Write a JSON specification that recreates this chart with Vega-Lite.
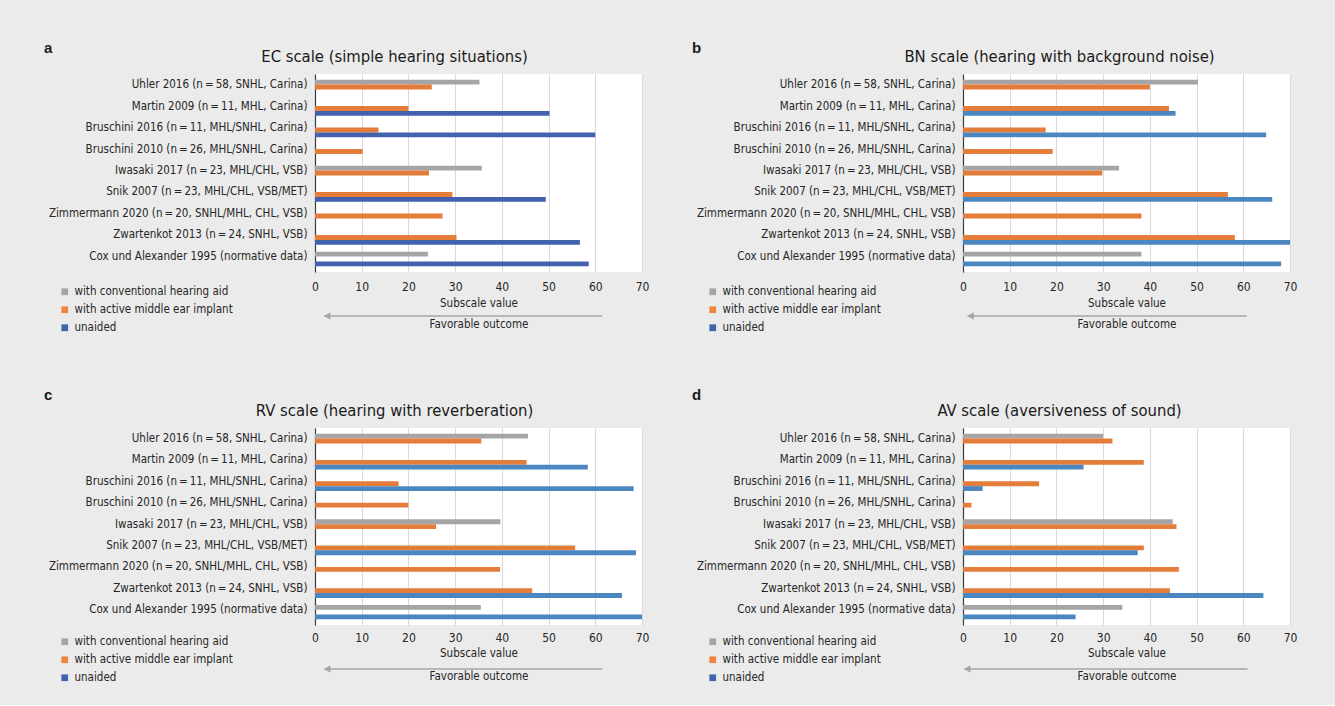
{
 "$schema": "https://vega.github.io/schema/vega-lite/v6.json",
 "background": "#ebebeb",
 "padding": {"left": 44, "top": 40, "right": 45, "bottom": 21},
 "config": {
  "font": "DejaVu Sans Condensed, Liberation Sans Narrow, sans-serif",
  "view": {"stroke": null},
  "axis": {"labelFontSize": 12, "labelColor": "#262626", "labelLimit": 400, "titleFontSize": 11.5, "titleFontWeight": "normal", "titleColor": "#262626", "ticks": false, "tickSize": 0},
  "title": {"fontSize": 16.5, "fontWeight": "normal", "color": "#1a1a1a"},
  "legend": {"orient": "none", "legendX": -256, "legendY": -29, "title": null, "labelFontSize": 11.5, "labelLimit": 400, "labelColor": "#262626", "symbolType": "square", "symbolSize": 45, "symbolOpacity": 1, "symbolStrokeWidth": 0, "rowPadding": 5, "padding": 0, "labelOffset": 4}
 },
 "datasets": {
  "series": [{"g": "with conventional hearing aid"}, {"g": "with active middle ear implant"}, {"g": "unaided"}],
  "arrow": [
   {"p": "a", "x1": 2, "x2": 61.5, "h": 2.6},
   {"p": "b", "x1": 1, "x2": 60.8, "h": 1.6},
   {"p": "c", "x1": 2, "x2": 61.5, "h": 2.6},
   {"p": "d", "x1": 0.3, "x2": 60.9, "h": 0.9}
  ],
  "bars": [
   {"p": "a", "s": "Uhler 2016 (n\u2009=\u200958, SNHL, Carina)", "g": "with conventional hearing aid", "v": 35.2},
   {"p": "a", "s": "Uhler 2016 (n\u2009=\u200958, SNHL, Carina)", "g": "with active middle ear implant", "v": 25},
   {"p": "a", "s": "Martin 2009 (n\u2009=\u200911, MHL, Carina)", "g": "with active middle ear implant", "v": 20},
   {"p": "a", "s": "Martin 2009 (n\u2009=\u200911, MHL, Carina)", "g": "unaided", "v": 50.2},
   {"p": "a", "s": "Bruschini 2016 (n\u2009=\u200911, MHL/SNHL, Carina)", "g": "with active middle ear implant", "v": 13.6},
   {"p": "a", "s": "Bruschini 2016 (n\u2009=\u200911, MHL/SNHL, Carina)", "g": "unaided", "v": 60},
   {"p": "a", "s": "Bruschini 2010 (n\u2009=\u200926, MHL/SNHL, Carina)", "g": "with active middle ear implant", "v": 10.2},
   {"p": "a", "s": "Iwasaki 2017 (n\u2009=\u200923, MHL/CHL, VSB)", "g": "with conventional hearing aid", "v": 35.7},
   {"p": "a", "s": "Iwasaki 2017 (n\u2009=\u200923, MHL/CHL, VSB)", "g": "with active middle ear implant", "v": 24.4},
   {"p": "a", "s": "Snik 2007 (n\u2009=\u200923, MHL/CHL, VSB/MET)", "g": "with active middle ear implant", "v": 29.4},
   {"p": "a", "s": "Snik 2007 (n\u2009=\u200923, MHL/CHL, VSB/MET)", "g": "unaided", "v": 49.4},
   {"p": "a", "s": "Zimmermann 2020 (n\u2009=\u200920, SNHL/MHL, CHL, VSB)", "g": "with active middle ear implant", "v": 27.3},
   {"p": "a", "s": "Zwartenkot 2013 (n\u2009=\u200924, SNHL, VSB)", "g": "with active middle ear implant", "v": 30.3},
   {"p": "a", "s": "Zwartenkot 2013 (n\u2009=\u200924, SNHL, VSB)", "g": "unaided", "v": 56.7},
   {"p": "a", "s": "Cox und Alexander 1995 (normative data)", "g": "with conventional hearing aid", "v": 24.2},
   {"p": "a", "s": "Cox und Alexander 1995 (normative data)", "g": "unaided", "v": 58.6},

   {"p": "b", "s": "Uhler 2016 (n\u2009=\u200958, SNHL, Carina)", "g": "with conventional hearing aid", "v": 50.3},
   {"p": "b", "s": "Uhler 2016 (n\u2009=\u200958, SNHL, Carina)", "g": "with active middle ear implant", "v": 40},
   {"p": "b", "s": "Martin 2009 (n\u2009=\u200911, MHL, Carina)", "g": "with active middle ear implant", "v": 44.1},
   {"p": "b", "s": "Martin 2009 (n\u2009=\u200911, MHL, Carina)", "g": "unaided", "v": 45.5},
   {"p": "b", "s": "Bruschini 2016 (n\u2009=\u200911, MHL/SNHL, Carina)", "g": "with active middle ear implant", "v": 17.7},
   {"p": "b", "s": "Bruschini 2016 (n\u2009=\u200911, MHL/SNHL, Carina)", "g": "unaided", "v": 64.9},
   {"p": "b", "s": "Bruschini 2010 (n\u2009=\u200926, MHL/SNHL, Carina)", "g": "with active middle ear implant", "v": 19.2},
   {"p": "b", "s": "Iwasaki 2017 (n\u2009=\u200923, MHL/CHL, VSB)", "g": "with conventional hearing aid", "v": 33.4},
   {"p": "b", "s": "Iwasaki 2017 (n\u2009=\u200923, MHL/CHL, VSB)", "g": "with active middle ear implant", "v": 29.8},
   {"p": "b", "s": "Snik 2007 (n\u2009=\u200923, MHL/CHL, VSB/MET)", "g": "with active middle ear implant", "v": 56.7},
   {"p": "b", "s": "Snik 2007 (n\u2009=\u200923, MHL/CHL, VSB/MET)", "g": "unaided", "v": 66.2},
   {"p": "b", "s": "Zimmermann 2020 (n\u2009=\u200920, SNHL/MHL, CHL, VSB)", "g": "with active middle ear implant", "v": 38.2},
   {"p": "b", "s": "Zwartenkot 2013 (n\u2009=\u200924, SNHL, VSB)", "g": "with active middle ear implant", "v": 58.2},
   {"p": "b", "s": "Zwartenkot 2013 (n\u2009=\u200924, SNHL, VSB)", "g": "unaided", "v": 70.6},
   {"p": "b", "s": "Cox und Alexander 1995 (normative data)", "g": "with conventional hearing aid", "v": 38.2},
   {"p": "b", "s": "Cox und Alexander 1995 (normative data)", "g": "unaided", "v": 68.1},

   {"p": "c", "s": "Uhler 2016 (n\u2009=\u200958, SNHL, Carina)", "g": "with conventional hearing aid", "v": 45.6},
   {"p": "c", "s": "Uhler 2016 (n\u2009=\u200958, SNHL, Carina)", "g": "with active middle ear implant", "v": 35.6},
   {"p": "c", "s": "Martin 2009 (n\u2009=\u200911, MHL, Carina)", "g": "with active middle ear implant", "v": 45.3},
   {"p": "c", "s": "Martin 2009 (n\u2009=\u200911, MHL, Carina)", "g": "unaided", "v": 58.4},
   {"p": "c", "s": "Bruschini 2016 (n\u2009=\u200911, MHL/SNHL, Carina)", "g": "with active middle ear implant", "v": 17.9},
   {"p": "c", "s": "Bruschini 2016 (n\u2009=\u200911, MHL/SNHL, Carina)", "g": "unaided", "v": 68.2},
   {"p": "c", "s": "Bruschini 2010 (n\u2009=\u200926, MHL/SNHL, Carina)", "g": "with active middle ear implant", "v": 20},
   {"p": "c", "s": "Iwasaki 2017 (n\u2009=\u200923, MHL/CHL, VSB)", "g": "with conventional hearing aid", "v": 39.7},
   {"p": "c", "s": "Iwasaki 2017 (n\u2009=\u200923, MHL/CHL, VSB)", "g": "with active middle ear implant", "v": 25.9},
   {"p": "c", "s": "Snik 2007 (n\u2009=\u200923, MHL/CHL, VSB/MET)", "g": "with active middle ear implant", "v": 55.7},
   {"p": "c", "s": "Snik 2007 (n\u2009=\u200923, MHL/CHL, VSB/MET)", "g": "unaided", "v": 68.7},
   {"p": "c", "s": "Zimmermann 2020 (n\u2009=\u200920, SNHL/MHL, CHL, VSB)", "g": "with active middle ear implant", "v": 39.6},
   {"p": "c", "s": "Zwartenkot 2013 (n\u2009=\u200924, SNHL, VSB)", "g": "with active middle ear implant", "v": 46.5},
   {"p": "c", "s": "Zwartenkot 2013 (n\u2009=\u200924, SNHL, VSB)", "g": "unaided", "v": 65.7},
   {"p": "c", "s": "Cox und Alexander 1995 (normative data)", "g": "with conventional hearing aid", "v": 35.5},
   {"p": "c", "s": "Cox und Alexander 1995 (normative data)", "g": "unaided", "v": 70.7},

   {"p": "d", "s": "Uhler 2016 (n\u2009=\u200958, SNHL, Carina)", "g": "with conventional hearing aid", "v": 30},
   {"p": "d", "s": "Uhler 2016 (n\u2009=\u200958, SNHL, Carina)", "g": "with active middle ear implant", "v": 32},
   {"p": "d", "s": "Martin 2009 (n\u2009=\u200911, MHL, Carina)", "g": "with active middle ear implant", "v": 38.7},
   {"p": "d", "s": "Martin 2009 (n\u2009=\u200911, MHL, Carina)", "g": "unaided", "v": 25.8},
   {"p": "d", "s": "Bruschini 2016 (n\u2009=\u200911, MHL/SNHL, Carina)", "g": "with active middle ear implant", "v": 16.3},
   {"p": "d", "s": "Bruschini 2016 (n\u2009=\u200911, MHL/SNHL, Carina)", "g": "unaided", "v": 4.2},
   {"p": "d", "s": "Bruschini 2010 (n\u2009=\u200926, MHL/SNHL, Carina)", "g": "with active middle ear implant", "v": 1.8},
   {"p": "d", "s": "Iwasaki 2017 (n\u2009=\u200923, MHL/CHL, VSB)", "g": "with conventional hearing aid", "v": 44.9},
   {"p": "d", "s": "Iwasaki 2017 (n\u2009=\u200923, MHL/CHL, VSB)", "g": "with active middle ear implant", "v": 45.7},
   {"p": "d", "s": "Snik 2007 (n\u2009=\u200923, MHL/CHL, VSB/MET)", "g": "with active middle ear implant", "v": 38.7},
   {"p": "d", "s": "Snik 2007 (n\u2009=\u200923, MHL/CHL, VSB/MET)", "g": "unaided", "v": 37.4},
   {"p": "d", "s": "Zimmermann 2020 (n\u2009=\u200920, SNHL/MHL, CHL, VSB)", "g": "with active middle ear implant", "v": 46.2},
   {"p": "d", "s": "Zwartenkot 2013 (n\u2009=\u200924, SNHL, VSB)", "g": "with active middle ear implant", "v": 44.3},
   {"p": "d", "s": "Zwartenkot 2013 (n\u2009=\u200924, SNHL, VSB)", "g": "unaided", "v": 64.3},
   {"p": "d", "s": "Cox und Alexander 1995 (normative data)", "g": "with conventional hearing aid", "v": 34.1},
   {"p": "d", "s": "Cox und Alexander 1995 (normative data)", "g": "unaided", "v": 24.1}
  ]
 },
 "bounds": "flush",
 "spacing": 354,
 "resolve": {"scale": {"color": "independent", "x": "independent", "y": "independent"}, "legend": {"color": "independent"}},
 "vconcat": [
  {
   "bounds": "flush",
   "spacing": 648,
   "resolve": {"scale": {"color": "independent", "x": "independent", "y": "independent"}, "legend": {"color": "independent"}},
   "hconcat": [
    {
     "title": {"text": "a", "anchor": "start", "frame": "group", "dx": -271, "offset": -7, "fontSize": 15, "fontWeight": "bold", "font": "Liberation Sans"},
     "bounds": "flush",
     "spacing": 43,
     "resolve": {"scale": {"color": "independent", "x": "independent"}, "legend": {"color": "independent"}},
     "vconcat": [
      {
       "width": 327, "height": 198,
       "view": {"fill": "white", "stroke": null},
       "title": {"text": "EC scale (simple hearing situations)", "anchor": "middle", "dx": -84, "offset": 9},
       "data": {"name": "bars"},
       "transform": [{"filter": "datum.p == 'a'"}],
       "mark": {"type": "bar", "clip": true},
       "encoding": {
        "y": {"field": "s", "type": "nominal", "sort": ["Uhler 2016 (n\u2009=\u200958, SNHL, Carina)", "Martin 2009 (n\u2009=\u200911, MHL, Carina)", "Bruschini 2016 (n\u2009=\u200911, MHL/SNHL, Carina)", "Bruschini 2010 (n\u2009=\u200926, MHL/SNHL, Carina)", "Iwasaki 2017 (n\u2009=\u200923, MHL/CHL, VSB)", "Snik 2007 (n\u2009=\u200923, MHL/CHL, VSB/MET)", "Zimmermann 2020 (n\u2009=\u200920, SNHL/MHL, CHL, VSB)", "Zwartenkot 2013 (n\u2009=\u200924, SNHL, VSB)", "Cox und Alexander 1995 (normative data)"], "scale": {"paddingInner": 0.33, "paddingOuter": 0.27}, "axis": {"title": null, "domain": true, "domainColor": "#3a3a3a", "domainWidth": 1.2, "labelPadding": 8, "labelOffset": -2, "labelFontSize": 11.5, "grid": false}},
        "yOffset": {"field": "g", "type": "nominal", "sort": ["with conventional hearing aid", "with active middle ear implant", "unaided"], "scale": {"domain": ["with conventional hearing aid", "with active middle ear implant", "unaided"], "paddingInner": 0}},
        "x": {"field": "v", "type": "quantitative", "scale": {"domain": [0, 70], "nice": false}, "axis": {"values": [0, 10, 20, 30, 40, 50, 60, 70], "labelFlush": false, "grid": true, "gridColor": "#d9d9d9", "domain": false, "labelPadding": 9, "title": "Subscale value", "titlePadding": 5}},
        "color": {"field": "g", "type": "nominal", "scale": {"domain": ["with conventional hearing aid", "with active middle ear implant", "unaided"], "range": ["#a5a5a5", "#e47c3a", "#4262ae"]}, "legend": null}
       }
      },
      {
       "width": 327, "height": 2,
       "layer": [
        {
         "data": {"name": "arrow"},
         "transform": [{"filter": "datum.p == 'a'"}],
         "mark": {"type": "rule", "color": "#a6a6a6", "strokeWidth": 1.5},
         "encoding": {"x": {"field": "x1", "type": "quantitative", "scale": {"domain": [0, 70], "nice": false}, "axis": {"title": "Favorable outcome", "labels": false, "grid": false, "domain": false, "titlePadding": 1}}, "x2": {"field": "x2"}}
        },
        {
         "data": {"name": "arrow"},
         "transform": [{"filter": "datum.p == 'a'"}],
         "mark": {"type": "point", "shape": "triangle-left", "filled": true, "color": "#a6a6a6", "size": 55, "opacity": 1},
         "encoding": {"x": {"field": "h", "type": "quantitative"}}
        },
        {
         "data": {"name": "series"},
         "mark": {"type": "square", "opacity": 0},
         "encoding": {"color": {"field": "g", "type": "nominal", "scale": {"domain": ["with conventional hearing aid", "with active middle ear implant", "unaided"], "range": ["#a5a5a5", "#f0853f", "#4262ae"]}}}
        }
       ]
      }
     ]
    },
    {
     "title": {"text": "b", "anchor": "start", "frame": "group", "dx": -271, "offset": -7, "fontSize": 15, "fontWeight": "bold", "font": "Liberation Sans"},
     "bounds": "flush",
     "spacing": 43,
     "resolve": {"scale": {"color": "independent", "x": "independent"}, "legend": {"color": "independent"}},
     "vconcat": [
      {
       "width": 327, "height": 198,
       "view": {"fill": "white", "stroke": null},
       "title": {"text": "BN scale (hearing with background noise)", "anchor": "middle", "dx": -67, "offset": 9},
       "data": {"name": "bars"},
       "transform": [{"filter": "datum.p == 'b'"}],
       "mark": {"type": "bar", "clip": true},
       "encoding": {
        "y": {"field": "s", "type": "nominal", "sort": ["Uhler 2016 (n\u2009=\u200958, SNHL, Carina)", "Martin 2009 (n\u2009=\u200911, MHL, Carina)", "Bruschini 2016 (n\u2009=\u200911, MHL/SNHL, Carina)", "Bruschini 2010 (n\u2009=\u200926, MHL/SNHL, Carina)", "Iwasaki 2017 (n\u2009=\u200923, MHL/CHL, VSB)", "Snik 2007 (n\u2009=\u200923, MHL/CHL, VSB/MET)", "Zimmermann 2020 (n\u2009=\u200920, SNHL/MHL, CHL, VSB)", "Zwartenkot 2013 (n\u2009=\u200924, SNHL, VSB)", "Cox und Alexander 1995 (normative data)"], "scale": {"paddingInner": 0.33, "paddingOuter": 0.27}, "axis": {"title": null, "domain": true, "domainColor": "#3a3a3a", "domainWidth": 1.2, "labelPadding": 8, "labelOffset": -2, "labelFontSize": 11.5, "grid": false}},
        "yOffset": {"field": "g", "type": "nominal", "sort": ["with conventional hearing aid", "with active middle ear implant", "unaided"], "scale": {"domain": ["with conventional hearing aid", "with active middle ear implant", "unaided"], "paddingInner": 0}},
        "x": {"field": "v", "type": "quantitative", "scale": {"domain": [0, 70], "nice": false}, "axis": {"values": [0, 10, 20, 30, 40, 50, 60, 70], "labelFlush": false, "grid": true, "gridColor": "#d9d9d9", "domain": false, "labelPadding": 9, "title": "Subscale value", "titlePadding": 5}},
        "color": {"field": "g", "type": "nominal", "scale": {"domain": ["with conventional hearing aid", "with active middle ear implant", "unaided"], "range": ["#a5a5a5", "#e47c3a", "#4a86c0"]}, "legend": null}
       }
      },
      {
       "width": 327, "height": 2,
       "layer": [
        {
         "data": {"name": "arrow"},
         "transform": [{"filter": "datum.p == 'b'"}],
         "mark": {"type": "rule", "color": "#a6a6a6", "strokeWidth": 1.5},
         "encoding": {"x": {"field": "x1", "type": "quantitative", "scale": {"domain": [0, 70], "nice": false}, "axis": {"title": "Favorable outcome", "labels": false, "grid": false, "domain": false, "titlePadding": 1}}, "x2": {"field": "x2"}}
        },
        {
         "data": {"name": "arrow"},
         "transform": [{"filter": "datum.p == 'b'"}],
         "mark": {"type": "point", "shape": "triangle-left", "filled": true, "color": "#a6a6a6", "size": 55, "opacity": 1},
         "encoding": {"x": {"field": "h", "type": "quantitative"}}
        },
        {
         "data": {"name": "series"},
         "mark": {"type": "square", "opacity": 0},
         "encoding": {"color": {"field": "g", "type": "nominal", "scale": {"domain": ["with conventional hearing aid", "with active middle ear implant", "unaided"], "range": ["#a5a5a5", "#f0853f", "#4262ae"]}}}
        }
       ]
      }
     ]
    }
   ]
  },
  {
   "bounds": "flush",
   "spacing": 648,
   "resolve": {"scale": {"color": "independent", "x": "independent", "y": "independent"}, "legend": {"color": "independent"}},
   "hconcat": [
    {
     "title": {"text": "c", "anchor": "start", "frame": "group", "dx": -271, "offset": 0, "fontSize": 15, "fontWeight": "bold", "font": "Liberation Sans"},
     "bounds": "flush",
     "spacing": 43,
     "resolve": {"scale": {"color": "independent", "x": "independent"}, "legend": {"color": "independent"}},
     "vconcat": [
      {
       "width": 327, "height": 197,
       "view": {"fill": "white", "stroke": null},
       "title": {"text": "RV scale (hearing with reverberation)", "anchor": "middle", "dx": -84, "offset": 9},
       "data": {"name": "bars"},
       "transform": [{"filter": "datum.p == 'c'"}],
       "mark": {"type": "bar", "clip": true},
       "encoding": {
        "y": {"field": "s", "type": "nominal", "sort": ["Uhler 2016 (n\u2009=\u200958, SNHL, Carina)", "Martin 2009 (n\u2009=\u200911, MHL, Carina)", "Bruschini 2016 (n\u2009=\u200911, MHL/SNHL, Carina)", "Bruschini 2010 (n\u2009=\u200926, MHL/SNHL, Carina)", "Iwasaki 2017 (n\u2009=\u200923, MHL/CHL, VSB)", "Snik 2007 (n\u2009=\u200923, MHL/CHL, VSB/MET)", "Zimmermann 2020 (n\u2009=\u200920, SNHL/MHL, CHL, VSB)", "Zwartenkot 2013 (n\u2009=\u200924, SNHL, VSB)", "Cox und Alexander 1995 (normative data)"], "scale": {"paddingInner": 0.33, "paddingOuter": 0.27}, "axis": {"title": null, "domain": true, "domainColor": "#3a3a3a", "domainWidth": 1.2, "labelPadding": 8, "labelOffset": -2, "labelFontSize": 11.5, "grid": false}},
        "yOffset": {"field": "g", "type": "nominal", "sort": ["with conventional hearing aid", "with active middle ear implant", "unaided"], "scale": {"domain": ["with conventional hearing aid", "with active middle ear implant", "unaided"], "paddingInner": 0}},
        "x": {"field": "v", "type": "quantitative", "scale": {"domain": [0, 70], "nice": false}, "axis": {"values": [0, 10, 20, 30, 40, 50, 60, 70], "labelFlush": false, "grid": true, "gridColor": "#d9d9d9", "domain": false, "labelPadding": 7, "title": "Subscale value", "titlePadding": 4}},
        "color": {"field": "g", "type": "nominal", "scale": {"domain": ["with conventional hearing aid", "with active middle ear implant", "unaided"], "range": ["#a5a5a5", "#e47c3a", "#4a86c0"]}, "legend": null}
       }
      },
      {
       "width": 327, "height": 2,
       "layer": [
        {
         "data": {"name": "arrow"},
         "transform": [{"filter": "datum.p == 'c'"}],
         "mark": {"type": "rule", "color": "#a6a6a6", "strokeWidth": 1.5},
         "encoding": {"x": {"field": "x1", "type": "quantitative", "scale": {"domain": [0, 70], "nice": false}, "axis": {"title": "Favorable outcome", "labels": false, "grid": false, "domain": false, "titlePadding": 0}}, "x2": {"field": "x2"}}
        },
        {
         "data": {"name": "arrow"},
         "transform": [{"filter": "datum.p == 'c'"}],
         "mark": {"type": "point", "shape": "triangle-left", "filled": true, "color": "#a6a6a6", "size": 55, "opacity": 1},
         "encoding": {"x": {"field": "h", "type": "quantitative"}}
        },
        {
         "data": {"name": "series"},
         "mark": {"type": "square", "opacity": 0},
         "encoding": {"color": {"field": "g", "type": "nominal", "scale": {"domain": ["with conventional hearing aid", "with active middle ear implant", "unaided"], "range": ["#a5a5a5", "#f0853f", "#4262ae"]}, "legend": {"legendY": -32}}}
        }
       ]
      }
     ]
    },
    {
     "title": {"text": "d", "anchor": "start", "frame": "group", "dx": -271, "offset": 0, "fontSize": 15, "fontWeight": "bold", "font": "Liberation Sans"},
     "bounds": "flush",
     "spacing": 43,
     "resolve": {"scale": {"color": "independent", "x": "independent"}, "legend": {"color": "independent"}},
     "vconcat": [
      {
       "width": 327, "height": 197,
       "view": {"fill": "white", "stroke": null},
       "title": {"text": "AV scale (aversiveness of sound)", "anchor": "middle", "dx": -67, "offset": 9},
       "data": {"name": "bars"},
       "transform": [{"filter": "datum.p == 'd'"}],
       "mark": {"type": "bar", "clip": true},
       "encoding": {
        "y": {"field": "s", "type": "nominal", "sort": ["Uhler 2016 (n\u2009=\u200958, SNHL, Carina)", "Martin 2009 (n\u2009=\u200911, MHL, Carina)", "Bruschini 2016 (n\u2009=\u200911, MHL/SNHL, Carina)", "Bruschini 2010 (n\u2009=\u200926, MHL/SNHL, Carina)", "Iwasaki 2017 (n\u2009=\u200923, MHL/CHL, VSB)", "Snik 2007 (n\u2009=\u200923, MHL/CHL, VSB/MET)", "Zimmermann 2020 (n\u2009=\u200920, SNHL/MHL, CHL, VSB)", "Zwartenkot 2013 (n\u2009=\u200924, SNHL, VSB)", "Cox und Alexander 1995 (normative data)"], "scale": {"paddingInner": 0.33, "paddingOuter": 0.27}, "axis": {"title": null, "domain": true, "domainColor": "#3a3a3a", "domainWidth": 1.2, "labelPadding": 8, "labelOffset": -2, "labelFontSize": 11.5, "grid": false}},
        "yOffset": {"field": "g", "type": "nominal", "sort": ["with conventional hearing aid", "with active middle ear implant", "unaided"], "scale": {"domain": ["with conventional hearing aid", "with active middle ear implant", "unaided"], "paddingInner": 0}},
        "x": {"field": "v", "type": "quantitative", "scale": {"domain": [0, 70], "nice": false}, "axis": {"values": [0, 10, 20, 30, 40, 50, 60, 70], "labelFlush": false, "grid": true, "gridColor": "#d9d9d9", "domain": false, "labelPadding": 7, "title": "Subscale value", "titlePadding": 4}},
        "color": {"field": "g", "type": "nominal", "scale": {"domain": ["with conventional hearing aid", "with active middle ear implant", "unaided"], "range": ["#a5a5a5", "#e47c3a", "#4a86c0"]}, "legend": null}
       }
      },
      {
       "width": 327, "height": 2,
       "layer": [
        {
         "data": {"name": "arrow"},
         "transform": [{"filter": "datum.p == 'd'"}],
         "mark": {"type": "rule", "color": "#a6a6a6", "strokeWidth": 1.5},
         "encoding": {"x": {"field": "x1", "type": "quantitative", "scale": {"domain": [0, 70], "nice": false}, "axis": {"title": "Favorable outcome", "labels": false, "grid": false, "domain": false, "titlePadding": 0}}, "x2": {"field": "x2"}}
        },
        {
         "data": {"name": "arrow"},
         "transform": [{"filter": "datum.p == 'd'"}],
         "mark": {"type": "point", "shape": "triangle-left", "filled": true, "color": "#a6a6a6", "size": 55, "opacity": 1},
         "encoding": {"x": {"field": "h", "type": "quantitative"}}
        },
        {
         "data": {"name": "series"},
         "mark": {"type": "square", "opacity": 0},
         "encoding": {"color": {"field": "g", "type": "nominal", "scale": {"domain": ["with conventional hearing aid", "with active middle ear implant", "unaided"], "range": ["#a5a5a5", "#f0853f", "#4262ae"]}, "legend": {"legendY": -32}}}
        }
       ]
      }
     ]
    }
   ]
  }
 ]
}
